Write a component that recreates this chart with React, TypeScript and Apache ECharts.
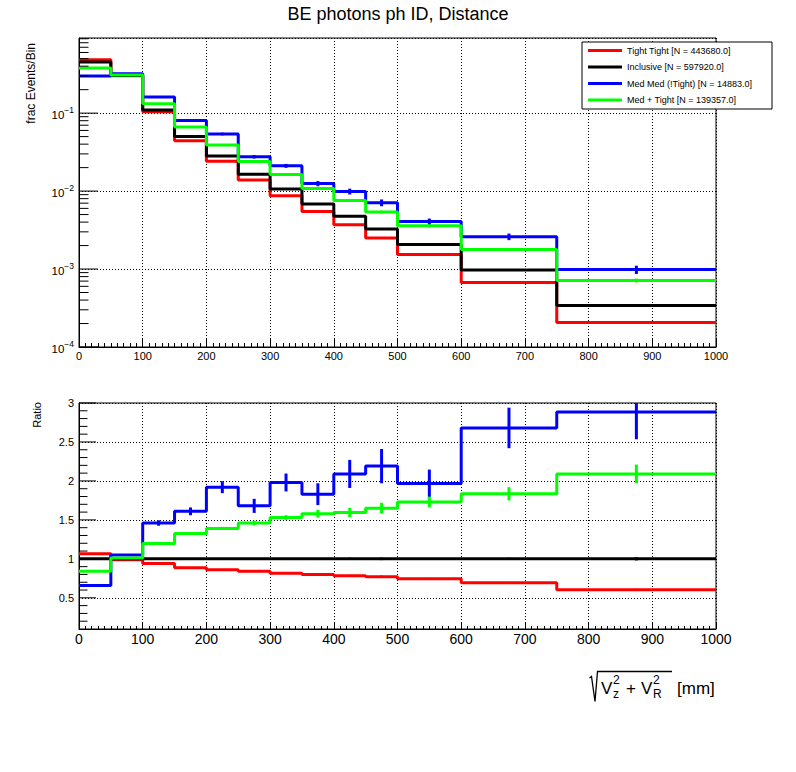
import React, { useEffect, useRef } from "react";
import * as echarts from "echarts";

const FONT = "Liberation Sans, Arial, Helvetica, sans-serif";

// Bin edges (mm)
const binEdges = [0, 50, 100, 150, 200, 250, 300, 350, 400, 450, 500, 600, 750, 1000];

const seriesNames = [
  "Tight Tight [N = 443680.0]",
  "Inclusive [N = 597920.0]",
  "Med Med (!Tight) [N = 14883.0]",
  "Med + Tight [N = 139357.0]",
];
const seriesColors = ["#ff0000", "#000000", "#0000ff", "#00ff00"];

// Top pad: fraction of events per bin
const tightTightFrac = [0.484, 0.302, 0.104, 0.0443, 0.0241, 0.01384, 0.0087, 0.00547, 0.00371, 0.00251, 0.00154, 0.00067, 0.000206];
const inclusiveFrac = [0.452, 0.305, 0.11, 0.05, 0.0281, 0.01644, 0.01066, 0.00684, 0.00475, 0.00326, 0.00207, 0.00097, 0.000341];
const medMedFrac = [0.299, 0.32, 0.161, 0.0805, 0.054, 0.0276, 0.0211, 0.0125, 0.0099, 0.0071, 0.00407, 0.0026, 0.000984];
const medTightFrac = [0.38, 0.308, 0.1317, 0.0663, 0.039, 0.024, 0.0163, 0.0108, 0.00757, 0.00538, 0.00358, 0.00178, 0.000713];

// Bottom pad: ratio to inclusive
const tightTightRatio = [1.064, 0.99, 0.94, 0.885, 0.86, 0.842, 0.816, 0.8, 0.782, 0.77, 0.744, 0.692, 0.603];
const inclusiveRatio = [1, 1, 1, 1, 1, 1, 1, 1, 1, 1, 1, 1, 1];
const medMedRatio = [0.658, 1.05, 1.46, 1.61, 1.92, 1.68, 1.98, 1.83, 2.09, 2.19, 1.966, 2.68, 2.885];
const medTightRatio = [0.842, 1.01, 1.197, 1.325, 1.39, 1.46, 1.53, 1.58, 1.594, 1.65, 1.73, 1.835, 2.09];

// Ratio uncertainties
const tightTightRatioErr = [0.002, 0.002, 0.004, 0.006, 0.008, 0.01, 0.01, 0.012, 0.014, 0.016, 0.012, 0.012, 0.012];
const inclusiveRatioErr = [0.002, 0.002, 0.004, 0.006, 0.008, 0.01, 0.01, 0.012, 0.014, 0.016, 0.012, 0.014, 0.02];
const medMedRatioErr = [0.008, 0.01, 0.035, 0.05, 0.077, 0.09, 0.115, 0.14, 0.18, 0.22, 0.18, 0.26, 0.35];
const medTightRatioErr = [0.003, 0.004, 0.01, 0.015, 0.02, 0.03, 0.03, 0.05, 0.06, 0.07, 0.07, 0.085, 0.12];

// Axis tick values
const logMajorTicks = [1e-4, 1e-3, 1e-2, 1e-1];
const logMinorMultipliers = [2, 3, 4, 5, 6, 7, 8, 9];
const ratioMajorTicks = [0.5, 1, 1.5, 2, 2.5, 3];
const ratioMinorTicks = [0.2, 0.3, 0.4, 0.6, 0.7, 0.8, 0.9, 1.1, 1.2, 1.3, 1.4, 1.6, 1.7, 1.8, 1.9, 2.1, 2.2, 2.3, 2.4, 2.6, 2.7, 2.8, 2.9];

const TOP_YMAX = 0.92;
const RATIO_YMIN = 0.1;
const RATIO_YMAX = 3;

const fracSets = [tightTightFrac, inclusiveFrac, medMedFrac, medTightFrac];
const ratioSets = [tightTightRatio, inclusiveRatio, medMedRatio, medTightRatio];
const ratioErrSets = [tightTightRatioErr, inclusiveRatioErr, medMedRatioErr, medTightRatioErr];

const stepData = (vals: number[]) =>
  binEdges.map((e, i) => [e, vals[Math.min(i, vals.length - 1)]]);
const centers = binEdges.slice(0, -1).map((e, i) => (e + binEdges[i + 1]) / 2);

const lineSeries = (name: string, color: string, vals: number[], gi: number) => ({
  type: "line",
  name,
  xAxisIndex: gi,
  yAxisIndex: gi,
  data: stepData(vals),
  step: "end",
  symbol: "none",
  showSymbol: false,
  silent: true,
  lineStyle: { color, width: 3 },
  itemStyle: { color },
  z: 2,
});

const errSeries = (id: string, color: string, lo: number[], hi: number[], gi: number) => ({
  type: "custom",
  name: id,
  xAxisIndex: gi,
  yAxisIndex: gi,
  clip: true,
  silent: true,
  data: centers.map((c, i) => [c, lo[i], hi[i]]),
  encode: { x: 0, y: [1, 2] },
  renderItem: (_p: any, api: any) => {
    const a = api.coord([api.value(0), api.value(1)]);
    const b = api.coord([api.value(0), api.value(2)]);
    return {
      type: "line",
      shape: { x1: a[0], y1: a[1], x2: b[0], y2: b[1] },
      style: { stroke: color, lineWidth: 3 },
    };
  },
  z: 2,
});

const tickSeries = (gi: number, items: number[][]) => ({
  type: "custom",
  name: "ticks" + gi,
  xAxisIndex: gi,
  yAxisIndex: gi,
  silent: true,
  data: items,
  encode: { x: 0, y: 1 },
  renderItem: (_p: any, api: any) => {
    const c = api.coord([api.value(0), api.value(1)]);
    const len = api.value(2);
    return {
      type: "line",
      shape: { x1: c[0], y1: c[1], x2: c[0] + len, y2: c[1] },
      style: { stroke: "#000", lineWidth: 1 },
    };
  },
  z: 4,
});

export default function App() {
  const ref = useRef<HTMLDivElement>(null);

  useEffect(() => {
    if (!ref.current) return;
    const chart = echarts.init(ref.current, null, { renderer: "svg" });

    const series: any[] = [];
    for (let k = 0; k < 4; k++) {
      const frac = fracSets[k];
      const r = ratioSets[k];
      const re = ratioErrSets[k];
      series.push(lineSeries(seriesNames[k], seriesColors[k], frac, 0));
      const rel = re.map((e, i) => e / r[i]);
      series.push(
        errSeries(
          "errTop" + k,
          seriesColors[k],
          frac.map((v, i) => v * (1 - rel[i])),
          frac.map((v, i) => v * (1 + rel[i])),
          0
        )
      );
    }
    for (let k = 0; k < 4; k++) {
      const r = ratioSets[k];
      const re = ratioErrSets[k];
      series.push(lineSeries("ratio" + k, seriesColors[k], r, 1));
      series.push(
        errSeries(
          "errRatio" + k,
          seriesColors[k],
          r.map((v, i) => v - re[i]),
          r.map((v, i) => v + re[i]),
          1
        )
      );
    }

    const topTicks: number[][] = [];
    logMajorTicks.forEach((d) => {
      topTicks.push([0, d, 19]);
      logMinorMultipliers.forEach((m) => {
        const v = d * m;
        if (v <= TOP_YMAX) topTicks.push([0, v, 9.5]);
      });
    });
    series.push(tickSeries(0, topTicks));
    const ratioTicks: number[][] = [];
    ratioMajorTicks.forEach((v) => ratioTicks.push([0, v, 17]));
    ratioMinorTicks.forEach((v) => ratioTicks.push([0, v, 8.5]));
    series.push(tickSeries(1, ratioTicks));

    const gridLine = { show: true, lineStyle: { color: "#000", width: 1, type: [1, 2] } };
    const axisLine = { show: true, lineStyle: { color: "#000", width: 1 } };

    const xAxisBase = (gi: number, fs: number, major: number, minor: number) => ({
      gridIndex: gi,
      type: "value",
      min: 0,
      max: 1000,
      interval: 100,
      axisLine,
      axisTick: { show: true, inside: true, length: major, lineStyle: { color: "#000" } },
      minorTick: { show: true, splitNumber: 10, length: minor, lineStyle: { color: "#000" } },
      splitLine: gridLine,
      axisLabel: {
        fontSize: fs,
        color: "#000",
        margin: 3,
        fontFamily: FONT,
        formatter: (v: number) => String(Math.round(v)),
      },
    });

    const option: any = {
      animation: false,
      backgroundColor: "#fff",
      title: {
        text: "BE photons ph ID, Distance",
        left: "center",
        top: 0,
        textStyle: { fontSize: 18, fontWeight: "normal", color: "#000", fontFamily: FONT },
      },
      legend: {
        data: seriesNames,
        orient: "vertical",
        left: 588,
        top: 44.5,
        padding: 0,
        itemWidth: 34,
        itemHeight: 3,
        itemGap: 4.5,
        icon: "rect",
        selectedMode: false,
        textStyle: { fontSize: 9, lineHeight: 12, color: "#000", fontFamily: FONT },
        z: 10,
      },
      grid: [
        { left: 79, top: 38, width: 637, height: 309, show: true, borderColor: "#000", borderWidth: 1, backgroundColor: "transparent" },
        { left: 79, top: 403, width: 637, height: 226, show: true, borderColor: "#000", borderWidth: 1, backgroundColor: "transparent" },
      ],
      xAxis: [xAxisBase(0, 11, 8, 4), xAxisBase(1, 14, 6, 3)],
      yAxis: [
        {
          gridIndex: 0,
          type: "log",
          logBase: 10,
          min: 1e-4,
          max: TOP_YMAX,
          axisLine,
          axisTick: { show: false },
          splitLine: gridLine,
          axisLabel: {
            margin: 5,
            color: "#000",
            fontFamily: FONT,
            formatter: (v: number) => {
              const e = Math.log10(v);
              const r = Math.round(e);
              if (Math.abs(e - r) > 1e-6) return "";
              const ex = r < 0 ? "\u2212" + -r : String(r);
              return "{b|10}{s|" + ex + "}";
            },
            rich: {
              b: { fontSize: 11.5, lineHeight: 16, verticalAlign: "bottom", color: "#000", fontFamily: FONT },
              s: { fontSize: 8.5, lineHeight: 9, verticalAlign: "top", color: "#000", fontFamily: FONT },
            },
          },
        },
        {
          gridIndex: 1,
          type: "value",
          min: RATIO_YMIN,
          max: RATIO_YMAX,
          axisLine,
          axisTick: { show: false },
          splitLine: gridLine,
          axisLabel: {
            margin: 5,
            fontSize: 11,
            color: "#000",
            fontFamily: FONT,
            showMinLabel: false,
            formatter: (v: number) =>
              Math.abs(v * 2 - Math.round(v * 2)) < 1e-6 ? String(Math.round(v * 10) / 10) : "",
          },
        },
      ],
      graphic: {
        elements: [
          {
            type: "rect",
            z: 5,
            shape: { x: 582, y: 42, width: 190, height: 67 },
            style: { fill: "#fff", stroke: "#000", lineWidth: 1 },
          },
          {
            type: "text",
            x: 31,
            y: 43,
            rotation: Math.PI / 2,
            style: { text: "frac Events/Bin", fontSize: 12, fontFamily: FONT, fill: "#000", align: "right", verticalAlign: "middle" },
          },
          {
            type: "text",
            x: 37,
            y: 402,
            rotation: Math.PI / 2,
            style: { text: "Ratio", fontSize: 11, fontFamily: FONT, fill: "#000", align: "right", verticalAlign: "middle" },
          },
          {
            type: "polyline",
            shape: { points: [[589.5, 678], [591.5, 676.5], [595, 701.5], [597.5, 671.5], [672, 671.5]] },
            style: { stroke: "#000", lineWidth: 1.3, fill: "none" },
          },
          { type: "text", x: 601, y: 688, style: { text: "V", fontSize: 17, fontFamily: FONT, fill: "#000", align: "left", verticalAlign: "middle" } },
          { type: "text", x: 613, y: 680, style: { text: "2", fontSize: 12, fontFamily: FONT, fill: "#000", align: "left", verticalAlign: "middle" } },
          { type: "text", x: 613, y: 694, style: { text: "z", fontSize: 12, fontFamily: FONT, fill: "#000", align: "left", verticalAlign: "middle" } },
          { type: "text", x: 626, y: 688, style: { text: "+", fontSize: 17, fontFamily: FONT, fill: "#000", align: "left", verticalAlign: "middle" } },
          { type: "text", x: 641, y: 688, style: { text: "V", fontSize: 17, fontFamily: FONT, fill: "#000", align: "left", verticalAlign: "middle" } },
          { type: "text", x: 653, y: 680, style: { text: "2", fontSize: 12, fontFamily: FONT, fill: "#000", align: "left", verticalAlign: "middle" } },
          { type: "text", x: 653, y: 694, style: { text: "R", fontSize: 12, fontFamily: FONT, fill: "#000", align: "left", verticalAlign: "middle" } },
          { type: "text", x: 677, y: 688, style: { text: "[mm]", fontSize: 17, fontFamily: FONT, fill: "#000", align: "left", verticalAlign: "middle" } },
        ],
      },
      series,
    };

    chart.setOption(option);
    return () => chart.dispose();
  }, []);

  return (
    <div
      ref={ref}
      style={{ position: "absolute", left: 0, top: 0, width: 796, height: 772, background: "#fff" }}
    />
  );
}
